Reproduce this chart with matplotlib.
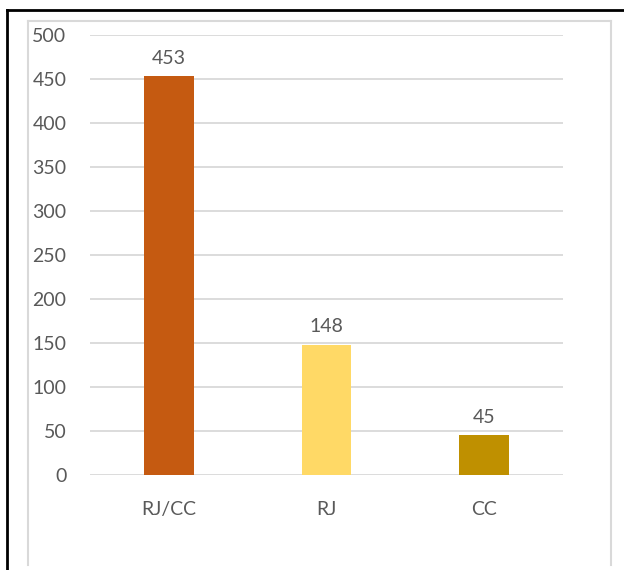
import matplotlib as mpl
import matplotlib.pyplot as plt
from matplotlib.lines import Line2D
from matplotlib.ticker import MultipleLocator

# Data
categories = ["RJ/CC", "RJ", "CC"]
values = [453, 148, 45]
colors = ["#C55A11", "#FFD966", "#BF9000"]

plt.rcParams['font.family'] = ['Lato', 'DejaVu Sans']
text_color = "#595959"
grid_color = "#D9D9D9"

W, H = 624, 570
fig = plt.figure(figsize=(W / 100, H / 100), dpi=100)

def fx(px):
    return px / W

def fy(py):
    return 1 - py / H

# plot area in pixels: x 90..563, y 35 (500) .. 475 (0)
ax = fig.add_axes([fx(90), fy(475), fx(563) - fx(90), fy(35) - fy(475)])

x = range(len(categories))
ax.bar(x, values, width=0.317, color=colors, zorder=3)
for xi, v in zip(x, values):
    ax.annotate(str(v), (xi, v), xytext=(0, 7), textcoords='offset points',
                ha='center', va='bottom', fontsize=14, color=text_color)

ax.set_ylim(0, 500)
ax.set_xlim(-0.5, len(categories) - 0.5)
ax.yaxis.set_major_locator(MultipleLocator(50))
ax.set_xticks(list(x))
ax.set_xticklabels(categories)
ax.grid(axis='y', color=grid_color, linewidth=1.3, zorder=0)
for s in ax.spines.values():
    s.set_visible(False)
ax.tick_params(axis='both', length=0, labelsize=14, labelcolor=text_color)
ax.tick_params(axis='y', pad=17)
ax.tick_params(axis='x', pad=19)

# chart frame (light gray) and outer black border
gx0, gx1, gy0, gy1 = fx(28), fx(611), fy(21), fy(565)
fig.add_artist(Line2D([gx0, gx1], [gy0, gy0], color=grid_color, lw=1.5, transform=fig.transFigure))
fig.add_artist(Line2D([gx0, gx0], [gy0, gy1], color=grid_color, lw=1.5, transform=fig.transFigure))
fig.add_artist(Line2D([gx1, gx1], [gy0, gy1], color=grid_color, lw=1.5, transform=fig.transFigure))

fig.add_artist(Line2D([fx(7), 1], [fy(10), fy(10)], color='black', lw=2, transform=fig.transFigure))
fig.add_artist(Line2D([fx(7), fx(7)], [fy(10), 0], color='black', lw=2, transform=fig.transFigure))

fig.savefig('out.png', dpi=100, facecolor='white')
